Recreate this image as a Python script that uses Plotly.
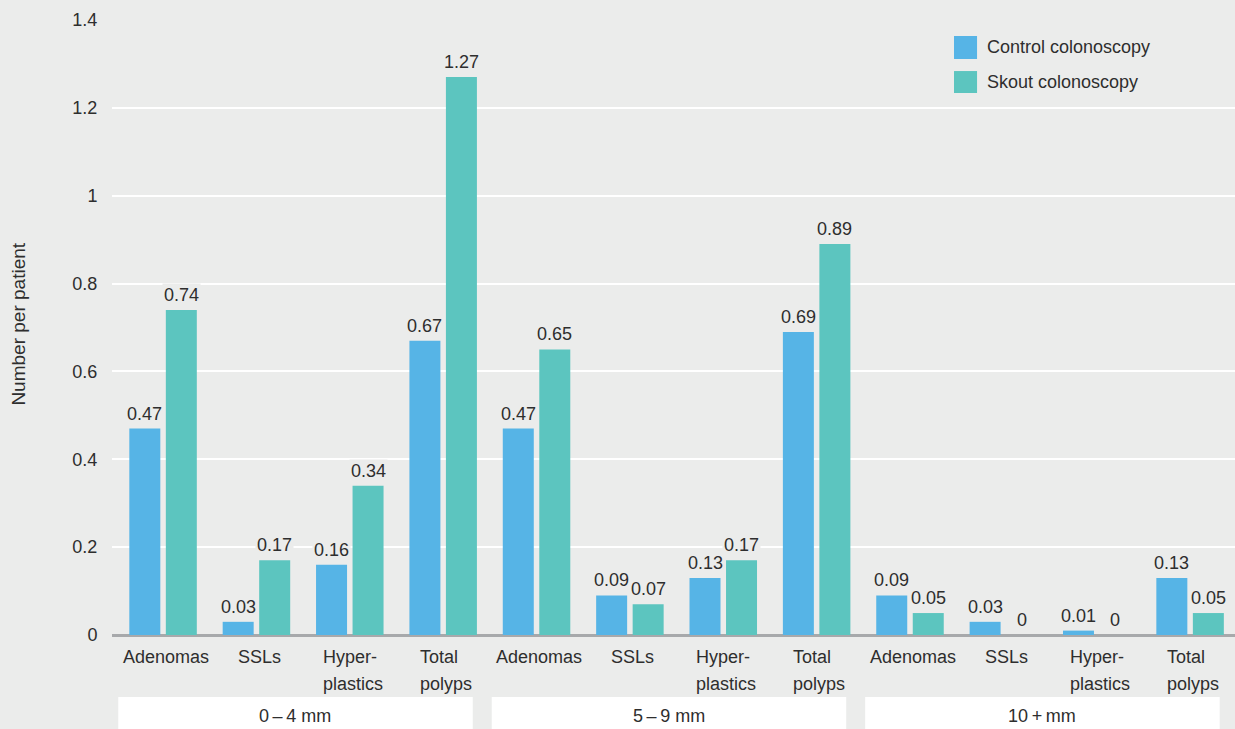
import plotly.graph_objects as go

categories = ["Adenomas", "SSLs", "Hyper-<br>plastics", "Total<br>polyps"] * 3
groups = ["0\u2009\u2013\u20094 mm", "5\u2009\u2013\u20099 mm", "10\u2009+\u2009mm"]
control = [0.47, 0.03, 0.16, 0.67, 0.47, 0.09, 0.13, 0.69, 0.09, 0.03, 0.01, 0.13]
skout = [0.74, 0.17, 0.34, 1.27, 0.65, 0.07, 0.17, 0.89, 0.05, 0, 0, 0.05]
series_names = ["Control colonoscopy", "Skout colonoscopy"]
colors = ["#56b4e6", "#5cc5bf"]

BG = "#ebeceb"
TXT = "#2e2e2e"
FONT = "Liberation Sans"

x = list(range(len(categories)))
W = 0.332
offsets = [-0.3615, 0.0295]

fig = go.Figure()
for vals, name, col, off in zip([control, skout], series_names, colors, offsets):
    fig.add_trace(go.Bar(x=x, y=vals, name=name, marker=dict(color=col, line=dict(width=0)),
                         width=W, offset=off, showlegend=False))

annotations = []
# value labels
for vals, off in zip([control, skout], offsets):
    for i, v in enumerate(vals):
        annotations.append(dict(x=i + off + W / 2, y=v, xref="x", yref="y", text=f"{v:g}",
                                showarrow=False, yanchor="bottom", yshift=3,
                                font=dict(family=FONT, size=18, color=TXT),
                                bgcolor=BG, borderpad=1))
# category labels (line spacing ~27px, glyphs 18px)
for i, c in enumerate(categories):
    txt = "<br>".join(f"<span style='font-size:18px'>{part}</span>" for part in c.split("<br>"))
    annotations.append(dict(x=i + 0.03, y=-0.016, xref="x", yref="paper", text=txt, align="left",
                            showarrow=False, yanchor="top",
                            font=dict(family=FONT, size=20.8, color=TXT)))
# group boxes + labels
shapes = []
for g, name in enumerate(groups):
    start = g * 4
    shapes.append(dict(type="rect", xref="x", yref="paper", x0=start - 0.48, x1=start + 3.317,
                       y0=-0.16, y1=-0.1008, fillcolor="white", line=dict(width=0), layer="below"))
    annotations.append(dict(x=start + 1.418, y=-0.1317, xref="x", yref="paper", text=name,
                            showarrow=False, yanchor="middle",
                            font=dict(family=FONT, size=18, color=TXT)))
# legend
leg_y = [(0.9366, 0.974), (0.8813, 0.917)]
for (y0, y1), name, col in zip(leg_y, series_names, colors):
    shapes.append(dict(type="rect", xref="paper", yref="paper", x0=0.7498, x1=0.7703,
                       y0=y0, y1=y1, fillcolor=col, line=dict(width=0)))
    annotations.append(dict(x=0.7774, y=(y0 + y1) / 2, xref="paper", yref="paper", text=name,
                            showarrow=False, xanchor="left", yanchor="middle",
                            font=dict(family=FONT, size=18, color=TXT)))
# y title
annotations.append(dict(x=-0.083, y=0.506, xref="paper", yref="paper", text="Number per patient",
                        textangle=-90, showarrow=False, xanchor="center", yanchor="middle",
                        font=dict(family=FONT, size=19, color=TXT)))

fig.update_layout(
    width=1235, height=729,
    margin=dict(l=112, r=0, t=20, b=94),
    paper_bgcolor=BG, plot_bgcolor=BG,
    barmode="overlay",
    showlegend=False,
    annotations=annotations,
    shapes=shapes,
    xaxis=dict(range=[-0.547, 11.481], showticklabels=False, showgrid=False, zeroline=False,
               ticks=""),
    yaxis=dict(range=[0, 1.4], dtick=0.2, showgrid=True, gridcolor="white", gridwidth=2,
               zeroline=True, zerolinecolor="#a7a9ab", zerolinewidth=3,
               ticks="outside", ticklen=10, tickcolor=BG,
               tickfont=dict(family=FONT, size=18, color=TXT)),
)

fig.write_html("out.html")
